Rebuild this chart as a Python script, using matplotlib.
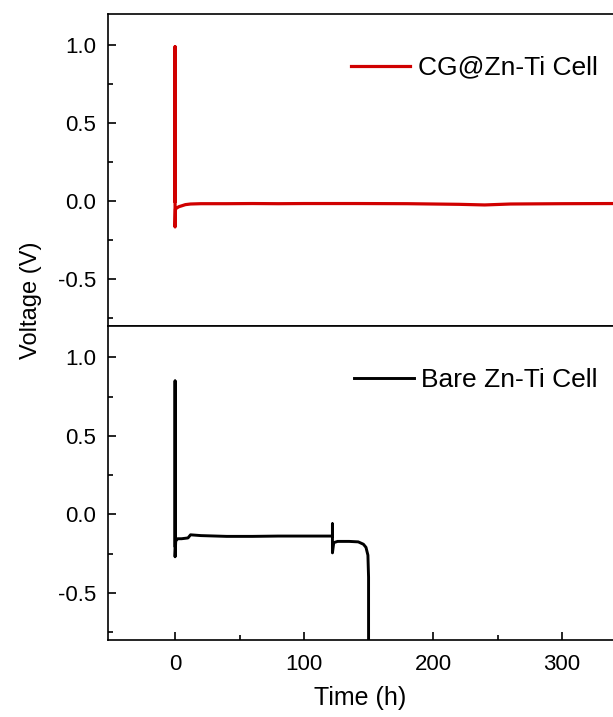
import matplotlib
matplotlib.use("Agg")
import matplotlib.pyplot as plt
from matplotlib.ticker import MultipleLocator, FixedLocator

plt.rcParams['font.family'] = ['Liberation Sans', 'DejaVu Sans']

# CG@Zn-Ti cell (top)
t_cg = [0.0, 0.0, 0.0, 0.3, 1, 2, 3, 5, 8, 12, 20, 40, 60, 80, 100, 140, 180, 220, 240, 260, 300, 340]
v_cg = [0.0, 0.99, -0.165, -0.05, -0.045, -0.04, -0.035, -0.03, -0.022, -0.018, -0.016, -0.016, -0.015, -0.016, -0.015, -0.015, -0.016, -0.02, -0.024, -0.018, -0.016, -0.015]

# Bare Zn-Ti cell (bottom)
t_bare = [0.0, 0.0, 0.0, 0.5, 2, 5, 10, 12, 20, 40, 60, 80, 100, 120, 122, 122, 122, 123, 126, 135, 142, 146, 148, 149.5, 150, 150]
v_bare = [-0.2, 0.85, -0.27, -0.17, -0.155, -0.155, -0.15, -0.13, -0.135, -0.14, -0.14, -0.138, -0.138, -0.138, -0.138, -0.06, -0.245, -0.18, -0.172, -0.172, -0.175, -0.19, -0.21, -0.26, -0.4, -0.9]

labels = ['CG@Zn-Ti Cell', 'Bare Zn-Ti Cell']
xticks = [0, 100, 200, 300]
xminor = [50, 150, 250]

fig = plt.figure(figsize=(6.13, 7.17), dpi=100)
L, R = 108/613, 1.0
ytop, ymid, ybot = 1-14/717, 1-326/717, 1-640/717
ax1 = fig.add_axes([L, ymid, R-L, ytop-ymid])
ax2 = fig.add_axes([L, ybot, R-L, ymid-ybot], sharex=ax1)

ax1.plot(t_cg, v_cg, color='#d00000', lw=2.3, label=labels[0])
ax2.plot(t_bare, v_bare, color='black', lw=2.1, label=labels[1])

for ax in (ax1, ax2):
    ax.set_ylim(-0.8, 1.2)
    ax.set_xlim(-52, 339.5)
    ax.yaxis.set_major_locator(MultipleLocator(0.5))
    ax.yaxis.set_minor_locator(MultipleLocator(0.25))
    ax.tick_params(which='both', direction='in', labelsize=16, width=1.2)
    ax.tick_params(which='major', length=6)
    ax.tick_params(which='minor', length=3.5)
    ax.tick_params(axis='y', pad=8.5)
    for s in ax.spines.values():
        s.set_linewidth(1.2)
    ax.spines['right'].set_visible(False)
    ax.legend(loc='upper right', frameon=False, fontsize=19, handlelength=2.25,
              handletextpad=0.27, borderaxespad=0.0, bbox_to_anchor=(0.99, 0.90))

ax2.xaxis.set_major_locator(FixedLocator(xticks))
ax2.xaxis.set_minor_locator(FixedLocator(xminor))
ax1.tick_params(axis='x', which='both', bottom=False, labelbottom=False)
ax1.set_yticks([1.0, 0.5, 0.0, -0.5])
ax1.set_yticklabels(['1.0', '0.5', '0.0', '-0.5'])
ax2.set_yticks([1.0, 0.5, 0.0, -0.5])
ax2.set_yticklabels(['1.0', '0.5', '0.0', '-0.5'])
ax2.set_xticklabels([str(x) for x in xticks])
ax2.tick_params(axis='x', pad=10)
ax2.set_xlabel('Time (h)', fontsize=18, labelpad=8)
fig.text(0.05, 1-300/717, 'Voltage (V)', rotation=90, ha='center', va='center', fontsize=17)

fig.savefig('out.png', dpi=100)
